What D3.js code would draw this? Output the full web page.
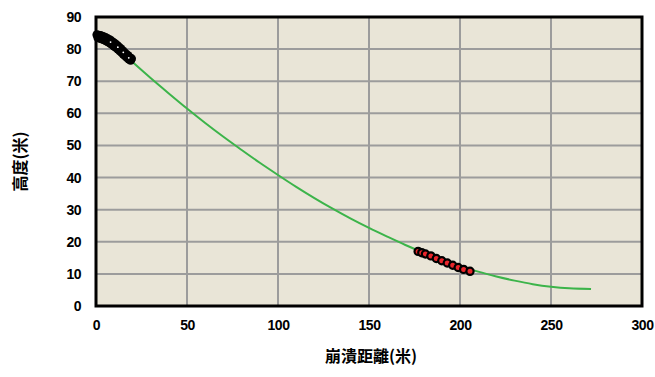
<!DOCTYPE html>
<html><head><meta charset="utf-8">
<script src="https://cdn.jsdelivr.net/npm/d3@7"></script>
<style>
body{margin:0;background:#fff;}
svg{display:block;}
.tick text{font-family:"Liberation Sans",Arial,sans-serif;font-weight:bold;font-size:14px;fill:#000;letter-spacing:-0.5px;}
</style></head>
<body>
<svg id="c" width="655" height="377"></svg>
<script>
const xTicks = [0,50,100,150,200,250,300];
const yTicks = [0,10,20,30,40,50,60,70,80,90];
const curveX = [20,30,40,50,60,70,80,90,100,110,120,130,140,150,160,170,180,190,200,210,220,230,240,250,260,272];
const curveY = [76,71,66.2,61.5,57,52.7,48.6,44.6,40.8,37.1,33.6,30.3,27.2,24.3,21.6,19,16.6,14.4,12.5,10.7,9.2,7.9,6.8,6.0,5.5,5.3];
const blackX = [0.5,1.5,2.5,3.5,4.5,5.5,6.5,7.5,8.5,9.5,10.5,11.5,12.5,13.5,14.5,15.5,16.5,17.5,18.5,19.5,
                1,2,3,4,5,6,7,8,9,10,11,12,13,14,15,16,17,18,19];
const blackY = [84.5,84.3,84.2,84,83.8,83.5,83.2,82.9,82.5,82.1,81.7,81.2,80.7,80.2,79.6,79.0,78.5,78,77.4,77,
                83.6,83.4,83.2,83.0,82.7,82.4,82.1,81.7,81.3,80.9,80.5,80.0,79.5,79.0,78.4,77.9,77.4,76.9,76.5];
const redX = [177,179,181,184,187,190,193,196,199,202,205.5];
const redY = [17.0,16.6,16.2,15.6,14.8,14.1,13.4,12.7,12.0,11.4,10.8];

const svg = d3.select("#c");
const m = {l:96, t:17, r:13, b:71};
const W = 655, H = 377;
const x = d3.scaleLinear().domain([0,300]).range([m.l, W-m.r]);
const y = d3.scaleLinear().domain([0,90]).range([H-m.b, m.t]);

svg.append("rect").attr("x",x(0)).attr("y",y(90)).attr("width",x(300)-x(0)).attr("height",y(0)-y(90)).attr("fill","#e9e5d7");

// grid
svg.append("g").selectAll("line").data(xTicks.slice(1,-1)).join("line")
  .attr("x1",d=>x(d)).attr("x2",d=>x(d)).attr("y1",y(0)).attr("y2",y(90))
  .attr("stroke","#9c9c9c").attr("stroke-width",2);
svg.append("g").selectAll("line").data(yTicks.slice(1,-1)).join("line")
  .attr("y1",d=>y(d)).attr("y2",d=>y(d)).attr("x1",x(0)).attr("x2",x(300))
  .attr("stroke","#9c9c9c").attr("stroke-width",2);

// curve
svg.append("path").datum(curveX.map((d,i)=>[d,curveY[i]]))
  .attr("d",d3.line().x(d=>x(d[0])).y(d=>y(d[1])).curve(d3.curveMonotoneX))
  .attr("fill","none").attr("stroke","#3cb44a").attr("stroke-width",2);

// black points
svg.append("g").selectAll("circle").data(blackX.map((d,i)=>[d,blackY[i]])).join("circle")
  .attr("cx",d=>x(d[0])).attr("cy",d=>y(d[1])).attr("r",4.5)
  .attr("fill","#000");
svg.append("g").selectAll("circle").data([[8,82.2],[12,80.6],[15,79.0],[18,77.3]]).join("circle")
  .attr("cx",d=>x(d[0])).attr("cy",d=>y(d[1])).attr("r",0.9)
  .attr("fill","#fff");

// red points
svg.append("g").selectAll("circle").data(redX.map((d,i)=>[d,redY[i]])).join("circle")
  .attr("cx",d=>x(d[0])).attr("cy",d=>y(d[1])).attr("r",3.6)
  .attr("fill","#e8262b").attr("stroke","#000").attr("stroke-width",2.2);

// frame
svg.append("rect").attr("x",x(0)).attr("y",y(90)).attr("width",x(300)-x(0)).attr("height",y(0)-y(90))
  .attr("fill","none").attr("stroke","#000").attr("stroke-width",3);

// axes
const xa = svg.append("g").attr("transform",`translate(0,${y(0)})`)
  .call(d3.axisBottom(x).tickValues(xTicks).tickSize(0).tickPadding(14).tickFormat(d3.format("d")));
xa.select(".domain").remove();
const ya = svg.append("g").attr("transform",`translate(${x(0)},0)`)
  .call(d3.axisLeft(y).tickValues(yTicks).tickSize(0).tickPadding(15).tickFormat(d3.format("d")));
ya.select(".domain").remove();

svg.append("text").attr("x",(x(0)+x(300))/2+2).attr("y",362).attr("text-anchor","middle")
  .attr("font-family","'Noto Sans CJK TC',sans-serif").attr("font-weight","bold").attr("font-size","16px")
  .text("崩潰距離(米)");
svg.append("text").attr("transform",`translate(26,${(y(0)+y(90))/2}) rotate(-90)`).attr("text-anchor","middle")
  .attr("font-family","'Noto Sans CJK TC',sans-serif").attr("font-weight","bold").attr("font-size","16px")
  .text("高度(米)");
</script>
</body></html>
